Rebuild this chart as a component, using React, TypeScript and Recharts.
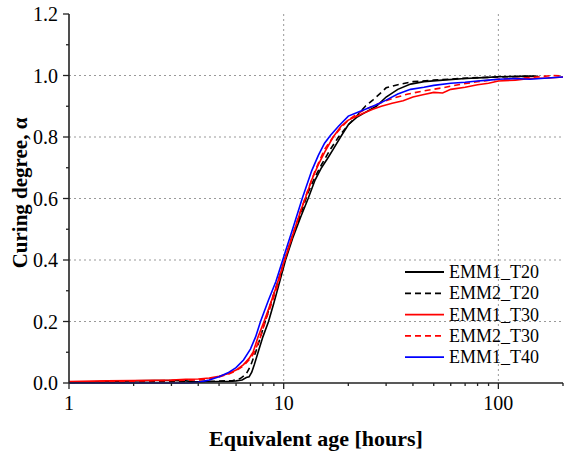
import React from 'react';
import { LineChart, Line, XAxis, YAxis, CartesianGrid, Legend } from 'recharts';

// [equivalent age (h), curing degree]
const emm1T20 = [
  [1, 0.003], [1.5, 0.005], [2, 0.007], [2.5, 0.008], [3, 0.008], [3.5, 0.007], [3.8, 0.004], [4.5, 0.004],
  [5, 0.005], [5.5, 0.005], [6, 0.007], [6.4, 0.01], [6.7, 0.018], [6.9, 0.02], [7.1, 0.035], [7.3, 0.06],
  [7.6, 0.1], [8, 0.15], [8.5, 0.2], [9, 0.26], [9.5, 0.32], [10.2, 0.4], [11, 0.47], [12, 0.54], [13, 0.6],
  [14, 0.66], [15, 0.7], [16, 0.73], [17, 0.76], [18.4, 0.8], [20, 0.84], [22, 0.865], [24, 0.88], [27, 0.9],
  [30, 0.93], [34, 0.955], [39, 0.972], [45, 0.98], [55, 0.985], [70, 0.99], [85, 0.993], [100, 0.996],
  [125, 0.997], [147, 0.998],
];
const emm2T20 = [
  [1, 0.002], [2, 0.004], [3, 0.005], [4, 0.005], [5, 0.006], [5.8, 0.008], [6.3, 0.015], [6.7, 0.03],
  [7, 0.055], [7.4, 0.1], [7.8, 0.15], [8.2, 0.2], [8.8, 0.27], [9.4, 0.33], [10, 0.39], [11, 0.48],
  [12, 0.55], [13, 0.62], [14, 0.67], [15, 0.71], [16.5, 0.76], [18, 0.8], [20, 0.84], [22, 0.87],
  [24, 0.9], [26, 0.92], [28, 0.94], [30, 0.96], [34, 0.97], [40, 0.98], [50, 0.985], [65, 0.99],
  [80, 0.993], [100, 0.995], [130, 0.997], [160, 0.998],
];
const emm1T30 = [
  [1, 0.005], [1.5, 0.007], [2, 0.008], [2.5, 0.009], [3, 0.01], [3.5, 0.012], [4, 0.013], [4.5, 0.016],
  [5, 0.022], [5.5, 0.03], [6, 0.042], [6.5, 0.06], [6.9, 0.08], [7.2, 0.1], [7.6, 0.15], [8.1, 0.2],
  [8.6, 0.25], [9.2, 0.31], [10, 0.39], [11, 0.48], [12, 0.56], [12.6, 0.6], [13.5, 0.66], [14.5, 0.71],
  [15.5, 0.75], [17, 0.8], [18.5, 0.835], [20, 0.855], [21.5, 0.865], [23.5, 0.877], [26, 0.89],
  [28.5, 0.9], [32, 0.91], [36, 0.918], [40, 0.93], [45, 0.938], [50, 0.945], [55, 0.943], [60, 0.955],
  [70, 0.962], [80, 0.97], [90, 0.975], [100, 0.982], [120, 0.985], [140, 0.99], [170, 0.992], [200, 0.995],
];
const emm2T30 = [
  [1, 0.003], [2, 0.006], [3, 0.008], [4, 0.01], [4.5, 0.013], [5, 0.02], [5.5, 0.028], [6, 0.04],
  [6.5, 0.056], [7, 0.08], [7.3, 0.1], [7.8, 0.15], [8.2, 0.2], [8.8, 0.26], [9.4, 0.32], [10.1, 0.4],
  [11, 0.48], [12, 0.56], [13, 0.63], [14, 0.69], [15.5, 0.76], [17, 0.8], [18.5, 0.83], [20, 0.855],
  [22, 0.875], [24, 0.89], [26, 0.9], [28, 0.91], [32, 0.925], [38, 0.94], [45, 0.95], [55, 0.96],
  [65, 0.97], [80, 0.98], [100, 0.988], [120, 0.99], [150, 0.995], [180, 1.0], [200, 0.998],
];
const emm1T40 = [
  [1, 0.0], [2, 0.0], [3, 0.0], [3.6, 0.0], [4, 0.002], [4.5, 0.01], [5, 0.02], [5.5, 0.033], [6, 0.05],
  [6.5, 0.075], [7, 0.11], [7.4, 0.15], [7.8, 0.2], [8.5, 0.27], [9.2, 0.33], [10, 0.41], [11, 0.5],
  [12.2, 0.6], [13.5, 0.69], [14.5, 0.74], [15.5, 0.78], [16.5, 0.805], [18, 0.835], [20, 0.868],
  [22, 0.88], [24, 0.89], [26, 0.9], [28, 0.91], [30, 0.92], [34, 0.94], [39, 0.955], [45, 0.962],
  [50, 0.968], [60, 0.975], [70, 0.978], [80, 0.982], [90, 0.985], [100, 0.988], [120, 0.99],
  [140, 0.988], [170, 0.992], [200, 0.995],
];

const xTicks = [1, 2, 3, 4, 5, 6, 7, 8, 9, 10, 20, 30, 40, 50, 60, 70, 80, 90, 100, 200];
const xMajor = [1, 10, 100];
const yTicks = [0, 0.1, 0.2, 0.3, 0.4, 0.5, 0.6, 0.7, 0.8, 0.9, 1.0, 1.1, 1.2];

const series = [
  { name: 'EMM1_T20', pts: emm1T20, color: '#000000', dash: undefined },
  { name: 'EMM2_T20', pts: emm2T20, color: '#000000', dash: '6 4' },
  { name: 'EMM1_T30', pts: emm1T30, color: '#ff0000', dash: undefined },
  { name: 'EMM2_T30', pts: emm2T30, color: '#ff0000', dash: '6 4' },
  { name: 'EMM1_T40', pts: emm1T40, color: '#0000ff', dash: undefined },
];

const FONT = '"Liberation Serif", "Times New Roman", serif';
const AX = '#222';

const BottomTick = (p: any) => {
  const v = p.payload.value;
  const major = xMajor.includes(v);
  return (
    <g>
      <line x1={p.x} x2={p.x} y1={p.y} y2={p.y + (major ? 6 : 3)} stroke={AX} strokeWidth={1.3} />
      {major && (
        <text x={p.x} y={p.y + 27} textAnchor="middle" fontFamily={FONT} fontSize={20} fill="#000">
          {v}
        </text>
      )}
    </g>
  );
};

const TopTick = (p: any) => {
  const major = xMajor.includes(p.payload.value);
  return <line x1={p.x} x2={p.x} y1={p.y - (major ? 6 : 3)} y2={p.y + (major ? 0 : 2)} stroke={AX} strokeWidth={1.3} />;
};

const LeftTick = (p: any) => {
  const v = p.payload.value;
  const major = Math.round(v * 10) % 2 === 0;
  return (
    <g>
      <line x1={p.x - (major ? 6 : 3)} x2={p.x} y1={p.y} y2={p.y} stroke={AX} strokeWidth={1.3} />
      {major && (
        <text x={p.x - 11} y={p.y + 7} textAnchor="end" fontFamily={FONT} fontSize={20} fill="#000">
          {v.toFixed(1)}
        </text>
      )}
    </g>
  );
};

const RightTick = (p: any) => {
  const major = Math.round(p.payload.value * 10) % 2 === 0;
  return <line x1={p.x} x2={p.x + (major ? 6 : 3)} y1={p.y} y2={p.y} stroke={AX} strokeWidth={1.3} />;
};

const LegendBox = () => (
  <svg width={165} height={110}>
    {series.map((s, i) => (
      <g key={s.name}>
        <line x1={5} x2={44} y1={12 + i * 21.3} y2={12 + i * 21.3} stroke={s.color} strokeWidth={1.8} strokeDasharray={s.dash} />
        <text x={49} y={18 + i * 21.3} fontFamily={FONT} fontSize={18} fill="#000">{s.name}</text>
      </g>
    ))}
  </svg>
);

export default function App() {
  return (
    <div style={{ position: 'absolute', left: 0, top: 0, background: '#fff' }}>
      <LineChart width={569} height={455} margin={{ top: 14, right: 6, left: 0, bottom: 0 }}>
        <CartesianGrid
          horizontal
          vertical
          horizontalValues={[0.2, 0.4, 0.6, 0.8, 1.0]}
          verticalValues={[10, 100]}
          stroke="#999"
          strokeDasharray="2 3"
        />
        <XAxis
          dataKey="t"
          type="number"
          scale="log"
          domain={[1, 200]}
          ticks={xTicks}
          interval={0}
          allowDataOverflow
          height={72}
          tickSize={0}
          tickMargin={0}
          tick={<BottomTick />}
          axisLine={{ stroke: AX, strokeWidth: 1.6 }}
          label={{
            content: () => (
              <text x={316} y={446} textAnchor="middle" fontFamily={FONT} fontSize={22} fontWeight="bold" fill="#000">
                Equivalent age [hours]
              </text>
            ),
          }}
        />
        <XAxis
          xAxisId="top"
          orientation="top"
          type="number"
          scale="log"
          domain={[1, 200]}
          ticks={xTicks}
          interval={0}
          allowDataOverflow
          height={0}
          tickSize={0}
          tickMargin={0}
          tick={<TopTick />}
          axisLine={{ stroke: AX, strokeWidth: 1.6 }}
        />
        <YAxis
          type="number"
          domain={[0, 1.2]}
          ticks={yTicks}
          interval={0}
          width={69}
          tickSize={0}
          tickMargin={0}
          tick={<LeftTick />}
          axisLine={{ stroke: AX, strokeWidth: 1.6 }}
          label={{
            content: () => (
              <text x={27} y={193} transform="rotate(-90 27 193)" textAnchor="middle" fontFamily={FONT} fontSize={21} fontWeight="bold" fill="#000">
                Curing degree, α
              </text>
            ),
          }}
        />
        <YAxis
          yAxisId="right"
          orientation="right"
          type="number"
          domain={[0, 1.2]}
          ticks={yTicks}
          interval={0}
          width={0}
          tickSize={0}
          tickMargin={0}
          tick={<RightTick />}
          axisLine={{ stroke: AX, strokeWidth: 1.6 }}
        />
        <Legend
          layout="vertical"
          align="center"
          verticalAlign="middle"
          content={<LegendBox />}
          wrapperStyle={{ left: 400, top: 260, width: 165, height: 110 }}
        />
        {series.map((s) => (
          <Line
            key={s.name}
            name={s.name}
            data={s.pts.map(([t, a]) => ({ t, a }))}
            dataKey="a"
            type="linear"
            stroke={s.color}
            strokeWidth={1.6}
            strokeDasharray={s.dash}
            dot={false}
            isAnimationActive={false}
          />
        ))}
      </LineChart>
    </div>
  );
}
